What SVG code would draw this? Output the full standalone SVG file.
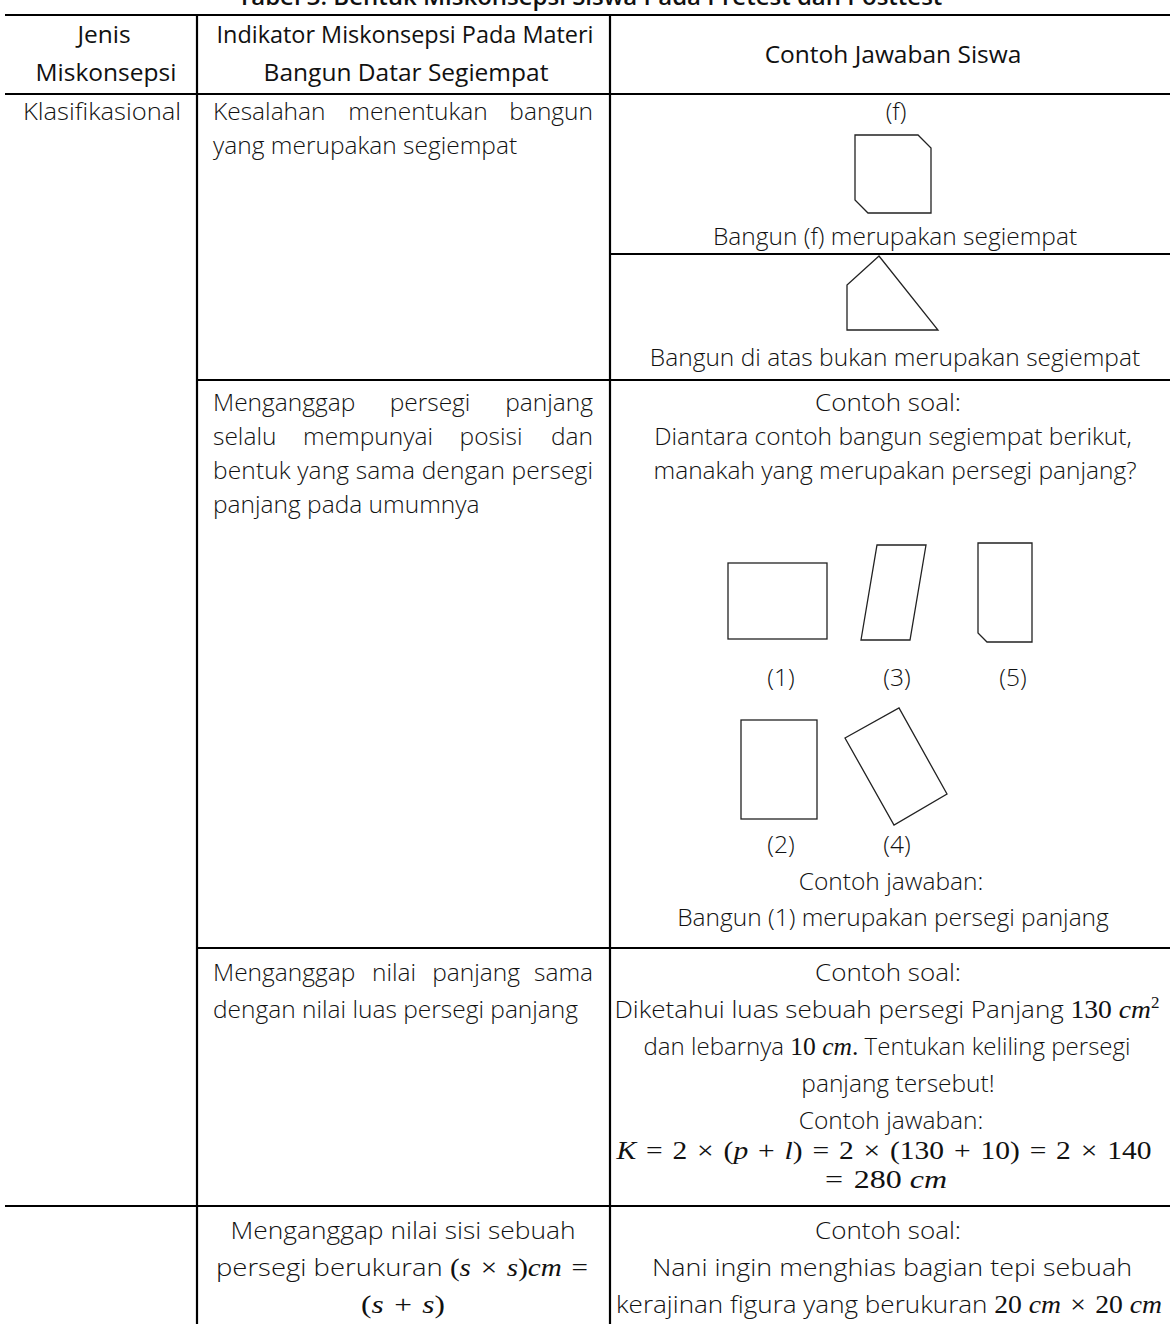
<svg xmlns="http://www.w3.org/2000/svg" width="1170" height="1324" viewBox="0 0 1170 1324">
<style>
.t{font-family:"Open Sans","Liberation Sans",sans-serif;font-size:24.5px;font-weight:300;fill:#111}
.h{font-weight:400}
.b{font-weight:600;font-size:24px}
.c{text-anchor:middle}
.e{text-anchor:end}
.m{font-family:"Liberation Serif","DejaVu Serif",serif;font-size:26px;font-weight:400}
.i{font-style:italic}
.sup{font-size:16px}
.ln{stroke:#000;stroke-width:2.2;fill:none}
.sh{fill:none;stroke:#222;stroke-width:1.3}
</style>
<rect width="1170" height="1324" fill="#fff"/>
<text id="title" class="t b c" x="590" y="5">Tabel 3. Bentuk Miskonsepsi Siswa Pada Pretest dan Posttest</text>
<g id="grid">
<line class="ln" x1="5" y1="15" x2="1170" y2="15"/>
<line class="ln" x1="5" y1="94" x2="1170" y2="94"/>
<line class="ln" x1="610" y1="254" x2="1170" y2="254"/>
<line class="ln" x1="197" y1="380" x2="1170" y2="380"/>
<line class="ln" x1="197" y1="948" x2="1170" y2="948"/>
<line class="ln" x1="5" y1="1206" x2="1170" y2="1206"/>
<line class="ln" x1="197" y1="15" x2="197" y2="1324"/>
<line class="ln" x1="610" y1="15" x2="610" y2="1324"/>
</g>
<g id="header">
<text class="t h c" x="104" y="43">Jenis</text>
<text class="t h c" x="106" y="81">Miskonsepsi</text>
<text class="t h c" x="405" y="43" textLength="377" lengthAdjust="spacingAndGlyphs">Indikator Miskonsepsi Pada Materi</text>
<text class="t h c" x="406" y="81">Bangun Datar Segiempat</text>
<text class="t h c" x="893" y="63">Contoh Jawaban Siswa</text>
</g>
<g id="jenis-klasifikasional">
<text class="t c" x="102" y="120" textLength="158" lengthAdjust="spacingAndGlyphs">Klasifikasional</text>
</g>
<g id="row1-indikator">
<text class="t" x="213" y="120">Kesalahan</text>
<text class="t c" x="418" y="120">menentukan</text>
<text class="t e" x="593" y="120">bangun</text>
<text class="t" x="213" y="154">yang merupakan segiempat</text>
</g>
<g id="row1-contoh-a">
<text class="t c" x="896" y="120">(f)</text>
<polygon class="sh" points="855,135 918,135 931,148 931,213 868,213 855,200"/>
<text class="t c" x="895" y="245">Bangun (f) merupakan segiempat</text>
</g>
<g id="row1-contoh-b">
<polygon class="sh" points="879,256 847,285 847,330 938,330"/>
<text class="t c" x="895" y="366">Bangun di atas bukan merupakan segiempat</text>
</g>
<g id="row2-indikator">
<text class="t" x="213" y="411">Menganggap</text>
<text class="t c" x="430" y="411">persegi</text>
<text class="t e" x="593" y="411">panjang</text>
<text class="t" x="213" y="445">selalu</text>
<text class="t c" x="368" y="445">mempunyai</text>
<text class="t c" x="491" y="445">posisi</text>
<text class="t e" x="593" y="445">dan</text>
<text class="t" x="213" y="479" textLength="380" lengthAdjust="spacing">bentuk yang sama dengan persegi</text>
<text class="t" x="213" y="513">panjang pada umumnya</text>
</g>
<g id="row2-contoh">
<text class="t c" x="888" y="411" textLength="146" lengthAdjust="spacingAndGlyphs">Contoh soal:</text>
<text class="t c" x="893" y="445">Diantara contoh bangun segiempat berikut,</text>
<text class="t c" x="895" y="479">manakah yang merupakan persegi panjang?</text>
<rect class="sh" x="728" y="563" width="99" height="76"/>
<polygon class="sh" points="877,545 926,545 910,640 861,640"/>
<polygon class="sh" points="978,543 1032,543 1032,642 987,642 978,633"/>
<text class="t c" x="781" y="686">(1)</text>
<text class="t c" x="897" y="686">(3)</text>
<text class="t c" x="1013" y="686">(5)</text>
<rect class="sh" x="741" y="720" width="76" height="99"/>
<polygon class="sh" points="845,738 899,708 947,794 894,825"/>
<text class="t c" x="781" y="853">(2)</text>
<text class="t c" x="897" y="853">(4)</text>
<text class="t c" x="891" y="890">Contoh jawaban:</text>
<text class="t c" x="893" y="926">Bangun (1) merupakan persegi panjang</text>
</g>
<g id="row3-indikator">
<text class="t" x="213" y="981">Menganggap</text>
<text class="t c" x="394" y="981">nilai</text>
<text class="t c" x="476" y="981">panjang</text>
<text class="t e" x="593" y="981">sama</text>
<text class="t" x="213" y="1018">dengan nilai luas persegi panjang</text>
</g>
<g id="row3-contoh">
<text class="t c" x="888" y="981" textLength="146" lengthAdjust="spacingAndGlyphs">Contoh soal:</text>
<text class="t c" x="887" y="1018" textLength="545" lengthAdjust="spacingAndGlyphs">Diketahui luas sebuah persegi Panjang <tspan class="m">130 </tspan><tspan class="m i">cm</tspan><tspan class="m sup" dy="-10">2</tspan></text>
<text class="t c" x="887" y="1055" textLength="487" lengthAdjust="spacingAndGlyphs">dan lebarnya <tspan class="m">10 </tspan><tspan class="m i">cm</tspan><tspan class="m">.</tspan> Tentukan keliling persegi</text>
<text class="t c" x="898" y="1092">panjang tersebut!</text>
<text class="t c" x="891" y="1129">Contoh jawaban:</text>
<text class="t m c" x="884" y="1159" textLength="535" lengthAdjust="spacingAndGlyphs"><tspan class="i">K</tspan>&#8196;=&#8196;2&#8196;×&#8196;(<tspan class="i">p</tspan>&#8196;+&#8196;<tspan class="i">l</tspan>)&#8196;=&#8196;2&#8196;×&#8196;(130&#8196;+&#8196;10)&#8196;=&#8196;2&#8196;×&#8196;140</text>
<text class="t m c" x="886" y="1188" textLength="122" lengthAdjust="spacingAndGlyphs">=&#8196;280&#8197;<tspan class="i">cm</tspan></text>
</g>
<g id="row4-indikator">
<text class="t c" x="403" y="1239" textLength="345" lengthAdjust="spacingAndGlyphs">Menganggap nilai sisi sebuah</text>
<text class="t c" x="402" y="1276" textLength="372" lengthAdjust="spacingAndGlyphs">persegi berukuran <tspan class="m">(<tspan class="i">s</tspan>&#8196;×&#8196;<tspan class="i">s</tspan>)<tspan class="i">cm</tspan>&#8196;=</tspan></text>
<text class="t m c" x="403" y="1313" textLength="84" lengthAdjust="spacingAndGlyphs">(<tspan class="i">s</tspan>&#8196;+&#8196;<tspan class="i">s</tspan>)</text>
</g>
<g id="row4-contoh">
<text class="t c" x="888" y="1239" textLength="146" lengthAdjust="spacingAndGlyphs">Contoh soal:</text>
<text class="t c" x="892" y="1276" textLength="480" lengthAdjust="spacingAndGlyphs">Nani ingin menghias bagian tepi sebuah</text>
<text class="t c" x="889" y="1313" textLength="546" lengthAdjust="spacingAndGlyphs">kerajinan figura yang berukuran <tspan class="m">20&#8197;</tspan><tspan class="m i">cm</tspan><tspan class="m">&#8196;×&#8196;20&#8197;</tspan><tspan class="m i">cm</tspan></text>
</g>
</svg>
